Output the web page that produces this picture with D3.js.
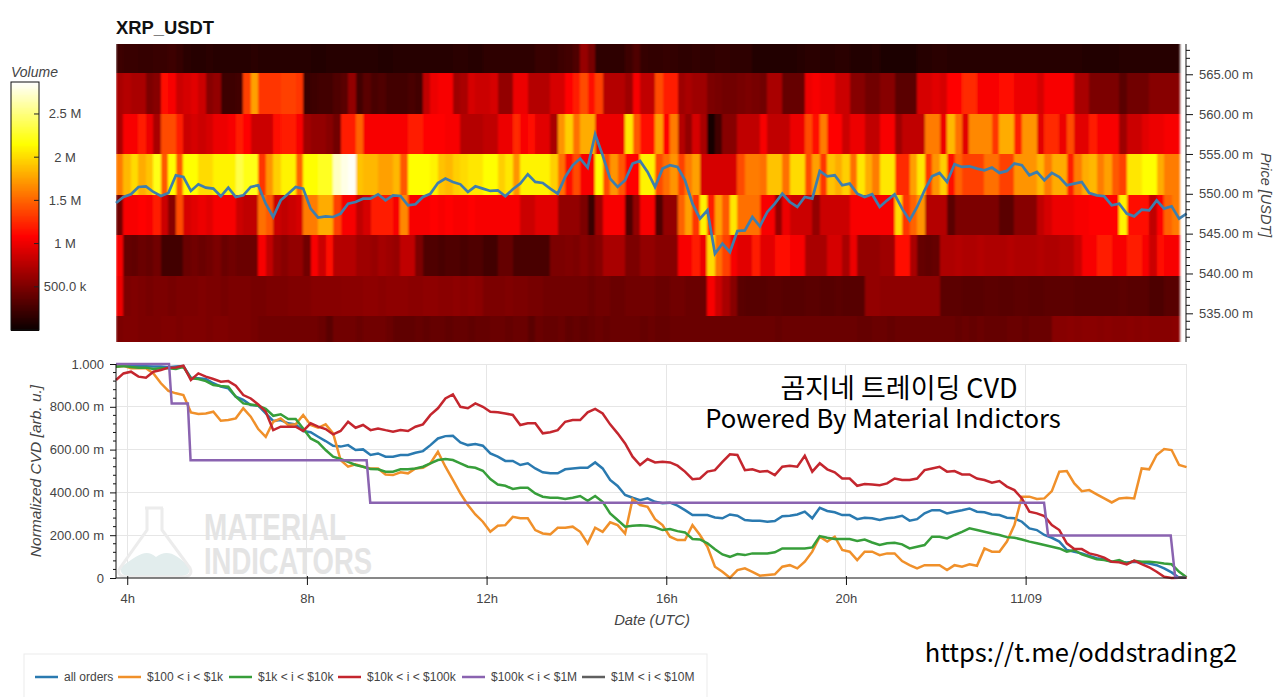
<!DOCTYPE html>
<html>
<head>
<meta charset="utf-8">
<script src="https://d3js.org/d3.v7.min.js"></script>
<style>
  html, body { margin: 0; background: #fff; overflow: hidden; }
  text { font-family: "Liberation Sans", Arial, sans-serif; }
</style>
</head>
<body>
<div id="chart"></div>
<script>
var vWidth = 1280;
var vHeight = 697;

// Volume per price band, one value per 10 minute column, in millions
var volume565 = [.22,.2,.2,.18,.18,.2,.2,.22,.18,.14,
  .13,.13,.14,.13,.13,.12,.12,.13,.14,.13,
  .13,.13,.12,.12,.13,.12,.11,.11,.12,.13,
  .12,.12,.13,.12,.12,.11,.11,.12,.12,.13,
  .13,.12,.12,.13,.13,.14,.14,.13,.13,.15,
  .15,.16,.15,.15,.16,.16,.2,.2,.18,.22,
  .25,.3,.62,.48,.16,.16,.15,.15,.22,.3,
  .18,.17,.17,.18,.17,.16,.16,.17,.16,.16,
  .17,.17,.16,.16,.15,.11,.1,.1,.11,.1,
  .1,.12,.14,.14,.13,.13,.14,.14,.1,.1,
  .1,.12,.08,.08,.08,.09,.09,.13,.13,.14,
  .14,.13,.13,.12,.12,.12,.12,.13,.13,.12,
  .12,.12,.12,.13,.13,.12,.12,.12,.12,.11,
  .11,.11,.1,.1,.13,.13,.13,.12,.12,.12,.12,.12];
var volume560 = [.7,.75,.7,.7,.5,.55,1.15,1.05,.85,.9,
  .95,.85,.55,.6,.22,.22,.25,1.35,1.75,1.3,
  1.3,1.3,1.35,1.35,1.3,.2,.22,.25,.25,.3,
  .35,.6,.25,.35,.28,.3,.25,.25,.25,.28,
  .25,.8,1.0,1.05,1.05,.65,.7,.9,.85,.85,
  .9,.6,.6,1.0,1.0,.75,.75,.75,.9,.9,
  1.1,1.2,1.4,1.15,1.35,.75,.75,.75,.65,1.05,
  .8,.8,1.4,1.2,1.2,.65,.7,.65,.65,.5,
  .48,.45,.45,.48,.5,.48,.45,.7,.7,.4,
  .4,.4,1.0,1.05,1.0,1.0,.85,.85,.55,.55,
  .45,.45,.55,.55,.35,.35,.35,.9,.9,.95,
  .9,1.1,1.1,1.25,1.25,1.05,1.05,1.05,1.15,1.15,
  1.0,1.0,1.0,.9,1.05,1.05,1.05,1.05,.7,.7,
  .5,.5,.5,.5,.35,.45,.45,.45,.55,.55,.55,.55];
var volume555 = [.7,1.05,1.05,1.2,1.0,.7,1.4,1.4,1.2,.85,
  .9,.85,.9,1.0,1.0,1.05,1.2,1.1,.85,.85,
  .85,1.15,1.2,1.2,1.05,.65,.6,.6,.55,.45,
  1.2,1.2,1.5,1.05,1.05,1.05,1.05,1.05,1.05,1.2,
  1.2,1.1,1.1,1.1,1.05,1.05,.75,.75,.75,.8,
  .8,1.0,1.0,1.25,1.05,1.15,.95,.95,.7,1.7,
  1.95,1.55,1.8,1.8,1.0,1.0,1.0,1.0,2.05,1.45,
  1.15,1.15,1.75,1.1,1.6,.75,.6,.9,.7,.03,
  .25,.55,.55,.8,.8,.8,1.05,.8,.8,.8,
  1.0,1.0,1.4,1.15,1.6,1.1,1.1,.85,1.0,1.0,
  .8,.8,1.05,1.05,.65,.8,.8,.8,1.6,1.6,
  1.0,1.85,1.55,.95,1.65,1.65,1.65,1.3,1.8,1.8,
  1.2,1.7,1.7,.95,1.25,1.25,1.0,1.4,.95,.95,
  1.2,1.05,1.05,1.05,.65,.85,.85,.95,1.0,1.0,1.05,1.05];
var volume550 = [1.6,1.85,2.0,1.8,1.9,2.2,1.45,2.15,1.45,2.15,
  2.15,2.0,2.0,2.1,2.1,2.1,2.35,2.2,2.2,1.3,
  1.7,1.95,2.1,2.1,1.5,2.15,2.15,2.25,2.25,2.7,
  2.8,2.85,1.9,1.85,1.85,1.75,1.75,1.85,1.45,2.15,
  2.15,2.15,2.1,1.9,1.85,1.95,2.0,2.05,2.05,2.15,
  2.15,1.95,2.05,1.7,2.1,2.1,2.1,2.1,1.95,1.55,
  1.15,1.4,1.05,1.05,2.15,1.4,1.7,1.45,1.1,1.1,
  2.1,2.1,1.4,1.55,1.7,1.35,1.6,1.75,.9,.9,
  .9,.9,.9,1.4,1.6,1.6,1.55,1.9,1.9,1.55,
  2.0,2.0,1.4,1.75,1.3,1.9,1.8,1.95,1.55,2.05,
  1.8,1.6,2.05,2.05,1.25,1.25,1.75,2.05,1.3,1.7,
  1.95,1.15,1.5,1.35,1.35,1.35,1.55,1.55,1.35,1.35,
  1.7,1.7,1.7,1.85,1.6,1.8,1.8,1.2,1.6,1.8,
  1.85,1.6,1.75,1.45,1.35,2.05,2.05,2.15,2.15,1.8,1.6,1.6];
var volume545 = [.45,1.05,1.05,1.1,1.05,1.2,.85,.55,1.4,.9,
  .95,1.0,.95,1.05,1.05,1.05,.85,.8,.8,1.55,
  1.45,.85,.8,.85,.9,1.6,1.6,1.8,1.8,1.35,
  1.05,1.05,.8,.9,1.2,1.2,1.2,1.05,1.65,1.05,
  1.05,1.05,1.1,1.05,1.1,1.05,1.05,1.1,1.05,1.05,
  1.05,1.05,1.05,1.05,.85,.85,.95,.95,.95,.6,
  .6,.6,.5,.2,.65,1.05,1.05,1.05,.3,.6,
  1.05,1.05,.3,.6,.6,1.5,1.75,1.3,2.1,1.2,
  1.75,1.45,2.05,1.55,1.55,1.55,1.05,1.05,.6,1.0,
  .85,.85,.85,.6,.85,.85,.85,.85,1.05,1.05,
  1.05,1.05,1.05,1.05,2.0,1.3,1.5,1.7,.75,.75,
  .75,.35,.5,.5,.5,.5,.5,.5,.35,.35,
  .55,.55,.55,.8,.9,1.0,1.0,1.0,1.05,1.05,
  1.1,1.1,1.1,1.1,2.1,1.15,1.15,1.15,.8,1.1,1.5,1.6];
var volume540 = [1.05,.4,.38,.42,.4,.45,.25,.25,.25,.42,
  .45,.42,.45,.5,.42,.45,.42,.42,.42,1.05,
  .8,.6,.55,.6,.6,.45,1.05,.85,1.15,.75,
  .75,.75,.65,.65,.62,.68,.65,.62,.8,.8,
  .5,.3,.3,.28,.3,.3,.28,.3,.3,.25,
  .25,.4,.4,.28,.28,.28,.28,.28,.5,.5,
  .52,.5,.55,.5,.55,.7,.7,.7,.5,.5,
  .6,.6,.55,.55,.55,1.05,1.05,1.2,1.0,2.0,
  1.55,1.35,1.05,.95,.95,1.2,.95,.95,1.15,1.15,
  1.05,1.05,.7,.7,.7,.9,.9,.7,1.0,.6,
  .6,.6,.65,.65,1.15,1.15,.7,.4,.38,.4,
  .72,.72,.75,.72,.72,.75,.72,.72,.72,.75,
  .72,.72,.72,.75,.72,.72,.75,.75,.85,1.05,
  1.05,1.2,1.2,1.05,1.05,1.2,1.2,1.05,.85,1.15,1.05,1.05];
var volume535 = [1.0,.5,.52,.5,.48,.5,.5,.48,.5,.5,
  .5,.52,.5,.5,.48,.5,.5,.5,.48,.48,
  .5,.5,.5,.52,.52,.52,.55,.55,.55,.55,
  .56,.56,.56,.58,.58,.56,.58,.58,.58,.56,
  .56,.58,.58,.56,.56,.58,.56,.58,.56,.5,
  .5,.5,.52,.5,.5,.48,.48,.45,.45,.45,
  .45,.45,.45,.42,.45,.45,.42,.42,.45,.45,
  .45,.45,.42,.42,.45,.45,.42,.42,.42,1.05,
  .85,.7,.55,.35,.33,.33,.33,.35,.35,.33,
  .33,.33,.35,.35,.33,.33,.35,.33,.33,.33,
  .6,.6,.58,.58,.58,.58,.58,.58,.58,.58,
  .36,.36,.36,.34,.34,.34,.36,.36,.34,.34,
  .36,.36,.34,.34,.36,.36,.36,.36,.34,.34,
  .34,.34,.34,.34,.36,.34,.34,.34,.29,.29,.34,.34];
var volume530 = [.5,.52,.52,.5,.5,.5,.52,.52,.5,.52,
  .52,.52,.5,.52,.52,.5,.5,.5,.48,.45,
  .45,.45,.45,.45,.45,.45,.45,.42,.35,.45,
  .45,.45,.42,.45,.45,.45,.42,.38,.38,.38,
  .4,.38,.4,.4,.38,.4,.4,.38,.4,.4,
  .42,.42,.4,.42,.42,.35,.42,.4,.4,.42,
  .38,.4,.38,.4,.42,.4,.42,.42,.42,.42,
  .4,.42,.4,.4,.42,.42,.42,.42,.42,.42,
  .42,.42,.42,.42,.42,.42,.42,.42,.4,.42,
  .42,.42,.42,.42,.42,.42,.42,.42,.42,.4,
  .4,.42,.42,.4,.42,.42,.42,.42,.42,.42,
  .42,.42,.4,.42,.4,.42,.4,.4,.4,.42,
  .42,.4,.42,.42,.42,.55,.55,.56,.55,.56,
  .56,.55,.56,.55,.55,.56,.55,.56,.55,.55,.55,.56];

var bandEdges = [570, 565.1, 560, 554.95, 549.9, 544.85, 539.7, 534.7, 529.6];
var bandVolumes = [volume565, volume560, volume555, volume550, volume545, volume540, volume535, volume530];

// Price in milli USDT, same 10 minute steps
var priceValues = [548.85,549.6,549.94,550.86,550.94,550.23,549.73,550.1,552.32,552.11,
  550.36,551.19,550.77,550.65,549.69,550.77,549.6,549.81,550.86,551.07,
  548.76,547.09,549.18,550.02,550.86,550.65,548.14,547.01,547.17,547.09,
  547.51,548.76,548.97,549.39,549.39,549.94,549.18,549.81,549.73,548.56,
  548.68,549.6,550.02,551.36,551.91,551.49,551.19,550.23,550.94,550.65,
  550.36,550.44,549.69,550.57,551.28,552.45,551.49,551.36,550.65,550.02,
  552.11,553.58,554.42,553.29,557.47,554.84,551.91,550.86,551.7,553.79,
  554.12,552.74,550.86,553.16,553.58,553.37,551.7,548.76,546.88,547.93,
  542.48,543.74,542.69,545.33,545.41,547.09,545.92,547.72,548.76,550.02,
  548.97,548.35,549.6,549.39,552.87,552.2,552.32,551.07,551.28,550.02,
  549.6,549.94,548.35,549.18,549.94,548.14,546.67,548.35,550.44,552.2,
  552.62,551.49,553.71,553.37,553.45,553.16,552.95,553.29,552.62,552.87,
  553.79,553.58,552.32,552.74,551.7,552.62,552.11,551.07,551.28,551.49,
  550.1,549.81,549.69,548.56,548.76,547.51,547.17,548.01,547.93,549.18,
  548.14,548.43,546.88,547.51];

// Normalized CVD in milli units, same 10 minute steps
var cvdAll = [990,992,992,990,990,988,988,985,988,990,
  936,933,930,910,894,886,847,832,808,805,
  769,734,738,723,718,687,681,660,640,618,
  614,621,598,601,575,582,567,567,575,575,
  585,593,621,652,663,665,634,621,626,618,
  582,567,547,547,528,536,512,494,489,489,
  508,512,515,515,540,512,458,430,388,375,
  364,372,356,349,352,338,317,294,294,294,
  283,279,297,291,271,268,268,263,266,289,
  291,297,310,279,328,313,307,294,294,275,
  282,279,271,279,283,291,268,275,302,317,
  317,302,310,317,325,310,307,297,294,282,
  279,263,232,224,201,188,170,131,123,115,
  103,92,87,76,76,73,76,73,68,60,
  45,26,1,1];
var cvd100to1k = [987,991,980,980,980,956,910,874,863,855,
  774,766,769,777,735,738,746,793,754,696,
  660,730,746,715,718,762,715,702,718,676,
  551,520,531,520,512,512,484,481,494,489,
  512,515,536,590,520,458,395,341,297,263,
  216,244,247,286,279,279,224,208,204,235,
  235,240,216,162,235,216,260,247,208,369,
  341,333,275,247,193,177,177,247,201,146,
  53,29,1,37,45,29,11,14,17,53,
  60,45,76,123,193,170,193,131,123,84,
  123,123,107,115,115,79,60,45,60,60,
  60,37,60,53,64,57,138,123,123,170,
  247,380,380,369,372,406,497,500,442,406,
  411,391,372,353,372,375,372,512,508,575,
  603,598,528,518];
var cvd1kto10k = [987,991,986,983,983,977,980,980,977,987,
  933,930,920,902,897,894,847,816,811,805,
  790,758,765,743,743,699,652,634,598,567,
  556,543,528,520,509,508,497,497,508,508,
  512,520,536,551,556,551,536,520,515,501,
  462,437,431,416,422,422,395,380,375,375,
  369,375,383,361,383,356,302,271,240,244,
  247,244,237,224,229,219,213,182,180,162,
  134,110,99,112,107,115,115,115,120,138,
  138,138,138,143,196,188,182,182,182,173,
  180,166,154,162,165,157,138,146,154,193,
  193,185,201,216,232,224,216,208,201,191,
  188,180,170,162,154,146,138,123,131,110,
  99,87,84,76,84,68,81,76,76,73,
  68,64,29,3];
var cvd10kto100k = [925,956,964,941,936,964,972,983,984,992,
  925,956,941,930,917,920,899,855,839,811,
  777,691,707,707,707,687,723,707,696,671,
  687,730,702,715,691,699,691,684,691,687,
  707,718,762,793,839,858,800,793,816,800,
  777,774,769,762,715,723,723,676,681,691,
  730,738,738,774,790,769,718,676,629,567,
  528,556,540,543,540,525,497,462,465,497,
  504,543,578,575,504,508,497,500,481,520,
  525,520,571,497,536,508,494,465,465,431,
  439,437,434,442,465,458,458,465,504,512,
  520,497,500,484,484,465,458,445,453,427,
  411,372,310,302,289,247,224,162,135,135,
  115,107,95,76,73,64,81,65,50,29,
  6,0,1,1];

// These two are sparse, so they carry their own hours
var cvd100kto1mHours = [3.75,4.93,4.99,5.35,5.41,9.33,9.41,24.41,24.5,27.23,27.33,27.57];
var cvd100kto1mValues = [1000,1000,815,815,550,550,352,352,199,199,2,2];
var cvd1mto10mHours = [27.4,27.57];
var cvd1mto10mValues = [4,2];

var cvdSeriesNames = ["all orders", "$100 < i < $1k", "$1k < i < $10k", "$10k < i < $100k", "$100k < i < $1M", "$1M < i < $10M"];
var cvdSeriesColors = ["#2a7ab0", "#f0902a", "#379e3a", "#c4262e", "#8a63b0", "#5f5f5f"];

var dateTickHours = [4, 8, 12, 16, 20, 24];
var dateTickLabels = ["4h", "8h", "12h", "16h", "20h", "11/09"];
var cvdTicks = [0, 200, 400, 600, 800, 1000];
var cvdTickLabels = ["0", "200.00 m", "400.00 m", "600.00 m", "800.00 m", "1.000"];
var priceTicks = [535, 540, 545, 550, 555, 560, 565];
var volumeTicks = [.5, 1, 1.5, 2, 2.5];
var volumeTickLabels = ["500.0 k", "1 M", "1.5 M", "2 M", "2.5 M"];

var firstHour = 3.75;
var stepHours = 1 / 6;
var hourAt = function (i) { return firstHour + i * stepHours; };

var svg = d3.select("#chart")
    .append("svg")
        .attr("width", vWidth)
        .attr("height", vHeight)
        .style("display", "block");

var x = d3.scaleLinear().domain([firstHour, 27.57]).range([116, 1186]);
var yPrice = d3.scaleLinear().domain([531.4, 568.8]).range([342, 44]);
var yCvd = d3.scaleLinear().domain([0, 1000]).range([578, 364]);
var yVolume = d3.scaleLinear().domain([0, 2.87]).range([330, 82]);

// hot palette
var vColor = d3.scaleLinear()
    .domain([0, 1.08, 2.15, 2.87])
    .range(["#0b0000", "#ff0000", "#ffff00", "#ffffff"])
    .clamp(true);

var axisColor = "#444";

svg.append("text")
    .attr("x", 116).attr("y", 34)
    .style("font-size", "18.4px").style("font-weight", "bold").style("fill", "#111")
    .text("XRP_USDT");

// Heatmap, the picture is a little soft so the columns bleed into each other
var defs = svg.append("defs");
defs.append("filter").attr("id", "soft")
    .attr("x", "-1%").attr("y", "-1%").attr("width", "102%").attr("height", "102%")
    .append("feGaussianBlur").attr("stdDeviation", "1 0.5");
defs.append("clipPath").attr("id", "heat-clip")
    .append("rect").attr("x", 116).attr("y", 44).attr("width", 1070).attr("height", 298);

var heat = svg.append("g").attr("clip-path", "url(#heat-clip)")
    .append("g").attr("filter", "url(#soft)");
bandVolumes.forEach(function (row, b) {
    heat.selectAll(null)
        .data(row)
        .enter().append("rect")
            .attr("x", function (d, i) { return x(hourAt(i)); })
            .attr("width", function (d, i) { return x(hourAt(i + 1)) - x(hourAt(i)) + 0.5; })
            .attr("y", yPrice(bandEdges[b]))
            .attr("height", yPrice(bandEdges[b + 1]) - yPrice(bandEdges[b]))
            .style("fill", function (d) { return vColor(d); })
            .style("shape-rendering", "crispEdges");
});

svg.append("path")
    .datum(priceValues)
    .attr("d", d3.line()
        .x(function (d, i) { return x(hourAt(i)); })
        .y(function (d) { return yPrice(d); }))
    .style("fill", "none")
    .style("stroke", "#3f7eac")
    .style("stroke-width", 2.7);

// Price axis
var priceAxis = svg.append("g")
    .attr("transform", "translate(1186,0)")
    .call(d3.axisRight(yPrice)
        .tickValues(priceTicks)
        .tickSize(7)
        .tickPadding(6)
        .tickFormat(function (d) { return d3.format(".2f")(d) + " m"; }));
priceAxis.select(".domain").attr("d", "M0,44V342").style("stroke", "#111");
priceAxis.selectAll(".tick line").style("stroke", "#111");
priceAxis.selectAll("text")
    .style("font-size", "13px").style("fill", axisColor)
    .style("font-family", '"Liberation Sans", Arial, sans-serif');
priceAxis.selectAll(".minor")
    .data(d3.range(532, 569).filter(function (d) { return d % 5 !== 0; }))
    .enter().append("line")
        .attr("class", "minor")
        .attr("x2", 4)
        .attr("y1", function (d) { return yPrice(d); })
        .attr("y2", function (d) { return yPrice(d); })
        .style("stroke", "#111");

svg.append("text")
    .attr("transform", "translate(1261,195) rotate(90)")
    .style("text-anchor", "middle").style("font-size", "14.5px").style("font-style", "italic")
    .style("fill", axisColor)
    .text("Price [USDT]");

// Colorbar
svg.append("text")
    .attr("x", 11).attr("y", 77)
    .style("font-size", "14px").style("font-style", "italic").style("fill", axisColor)
    .text("Volume");

svg.append("g").selectAll("rect")
    .data(d3.range(0, 2.87, 0.01))
    .enter().append("rect")
        .attr("x", 11)
        .attr("width", 28)
        .attr("y", function (d) { return yVolume(d + 0.01); })
        .attr("height", function (d) { return yVolume(d) - yVolume(d + 0.01) + 0.5; })
        .style("fill", function (d) { return vColor(d); })
        .style("shape-rendering", "crispEdges");

svg.append("rect")
    .attr("x", 11).attr("y", yVolume(2.87))
    .attr("width", 28).attr("height", yVolume(0) - yVolume(2.87))
    .style("fill", "none").style("stroke", "#111");

volumeTicks.forEach(function (t, i) {
    svg.append("line")
        .attr("x1", 34).attr("x2", 39)
        .attr("y1", yVolume(t)).attr("y2", yVolume(t))
        .style("stroke", "#222");
    svg.append("text")
        .attr("x", 65).attr("y", yVolume(t) + 4.5)
        .style("text-anchor", "middle").style("font-size", "13px").style("fill", axisColor)
        .text(volumeTickLabels[i]);
});

// CVD panel grid
var grid = svg.append("g").style("stroke", "#e6e6e6").style("shape-rendering", "crispEdges");
grid.selectAll(".gy")
    .data(cvdTicks.slice(1))
    .enter().append("line")
        .attr("class", "gy")
        .attr("x1", 116).attr("x2", 1186)
        .attr("y1", function (d) { return yCvd(d); })
        .attr("y2", function (d) { return yCvd(d); });
grid.selectAll(".gx")
    .data(dateTickHours)
    .enter().append("line")
        .attr("class", "gx")
        .attr("y1", 364).attr("y2", 578)
        .attr("x1", function (d) { return x(d); })
        .attr("x2", function (d) { return x(d); });
grid.append("line").attr("x1", 1186).attr("x2", 1186).attr("y1", 364).attr("y2", 578);

// Watermark
var mark = svg.append("g");
mark.append("path")
    .attr("d", "M122,566 C138,555 146,548 156,557 C166,549 176,553 188,566 C192,574 186,576 180,576 L130,576 C122,576 119,572 122,566 Z")
    .style("fill", "#e2eded");
mark.append("path")
    .attr("d", "M145,508 H163 M147,508 V530 L120,568 C116,575 122,577 128,577 H182 C188,577 193,575 190,568 L162,530 V508")
    .style("fill", "none").style("stroke", "#ececec").style("stroke-width", 3);
mark.append("text")
    .attr("x", 204).attr("y", 540).attr("textLength", 142).attr("lengthAdjust", "spacingAndGlyphs")
    .style("font-family", '"Liberation Sans Narrow", "Liberation Sans", sans-serif')
    .style("font-size", "36px").style("font-weight", "bold").style("fill", "#e4e4e4")
    .text("MATERIAL");
mark.append("text")
    .attr("x", 204).attr("y", 574).attr("textLength", 168).attr("lengthAdjust", "spacingAndGlyphs")
    .style("font-family", '"Liberation Sans Narrow", "Liberation Sans", sans-serif')
    .style("font-size", "36px").style("font-weight", "bold").style("fill", "#e4e4e4")
    .text("INDICATORS");

// CVD lines
var vLine = d3.line()
    .x(function (d) { return x(d[0]); })
    .y(function (d) { return yCvd(d[1]); });

var gridSeries = [cvdAll, cvd100to1k, cvd1kto10k, cvd10kto100k];
gridSeries.forEach(function (values, s) {
    svg.append("path")
        .datum(values.map(function (v, i) { return [hourAt(i), v]; }))
        .attr("d", vLine)
        .style("fill", "none")
        .style("stroke", cvdSeriesColors[s])
        .style("stroke-width", 2.5);
});
[[cvd100kto1mHours, cvd100kto1mValues, 4], [cvd1mto10mHours, cvd1mto10mValues, 5]].forEach(function (sparse) {
    svg.append("path")
        .datum(sparse[0].map(function (h, i) { return [h, sparse[1][i]]; }))
        .attr("d", vLine)
        .style("fill", "none")
        .style("stroke", cvdSeriesColors[sparse[2]])
        .style("stroke-width", 2.5);
});

// CVD axes
var cvdAxis = svg.append("g")
    .attr("transform", "translate(116,0)")
    .call(d3.axisLeft(yCvd)
        .tickValues(cvdTicks)
        .tickSize(6)
        .tickPadding(6)
        .tickFormat(function (d, i) { return cvdTickLabels[i]; }));
cvdAxis.select(".domain").attr("d", "M0,364V578").style("stroke", "#111");
cvdAxis.selectAll(".tick line").style("stroke", "#111");
cvdAxis.selectAll("text")
    .style("font-size", "13px").style("fill", axisColor)
    .style("font-family", '"Liberation Sans", Arial, sans-serif');
cvdAxis.selectAll(".minor")
    .data(d3.range(40, 1000, 40).filter(function (d) { return d % 200 !== 0; }))
    .enter().append("line")
        .attr("class", "minor")
        .attr("x2", -3)
        .attr("y1", function (d) { return yCvd(d); })
        .attr("y2", function (d) { return yCvd(d); })
        .style("stroke", "#111");

var dateAxis = svg.append("g")
    .attr("transform", "translate(0,578)")
    .call(d3.axisBottom(x)
        .tickValues(dateTickHours)
        .tickSize(7)
        .tickPadding(9)
        .tickFormat(function (d, i) { return dateTickLabels[i]; }));
dateAxis.select(".domain").attr("d", "M116,0H1186").style("stroke", "#111");
dateAxis.selectAll(".tick line").attr("y1", -2).style("stroke", "#111");
dateAxis.selectAll("text")
    .style("font-size", "13px").style("fill", axisColor)
    .style("font-family", '"Liberation Sans", Arial, sans-serif');

svg.append("text")
    .attr("x", 652).attr("y", 625)
    .style("text-anchor", "middle").style("font-size", "14.8px").style("font-style", "italic").style("fill", axisColor)
    .text("Date (UTC)");
svg.append("text")
    .attr("transform", "translate(41,471) rotate(-90)")
    .style("text-anchor", "middle").style("font-size", "15.5px").style("font-style", "italic").style("fill", axisColor)
    .text("Normalized CVD [arb. u.]");

// Captions pasted over the chart
svg.append("text")
    .attr("x", 899).attr("y", 398)
    .style("text-anchor", "middle").style("font-size", "27px").style("fill", "#000")
    .style("font-family", '"Noto Sans CJK KR", "Noto Sans", sans-serif')
    .text("곰지네 트레이딩 CVD");
svg.append("text")
    .attr("x", 883).attr("y", 428)
    .style("text-anchor", "middle").style("font-size", "25.7px").style("fill", "#000")
    .style("font-family", '"Noto Sans CJK KR", "Noto Sans", sans-serif')
    .text("Powered By Material Indictors");
svg.append("text")
    .attr("x", 1081).attr("y", 662)
    .style("text-anchor", "middle").style("font-size", "25.6px").style("fill", "#000")
    .style("font-family", '"Noto Sans CJK KR", "Noto Sans", sans-serif')
    .text("https://t.me/oddstrading2");

// Legend
svg.append("rect")
    .attr("x", 24).attr("y", 654)
    .attr("width", 683).attr("height", 60)
    .style("fill", "#fff").style("stroke", "#ebebeb");

var legendStarts = [35, 118, 229, 338, 462, 582];
var legend = svg.selectAll(".legend")
    .data(cvdSeriesNames)
    .enter().append("g")
        .attr("class", "legend")
        .attr("transform", function (d, i) { return "translate(" + legendStarts[i] + ",677)"; });
legend.append("line")
    .attr("x2", 23)
    .style("stroke", function (d, i) { return cvdSeriesColors[i]; })
    .style("stroke-width", 2.5);
legend.append("text")
    .attr("x", 29).attr("y", 4)
    .style("font-size", "12px").style("fill", axisColor)
    .text(function (d) { return d; });
</script>
</body>
</html>
